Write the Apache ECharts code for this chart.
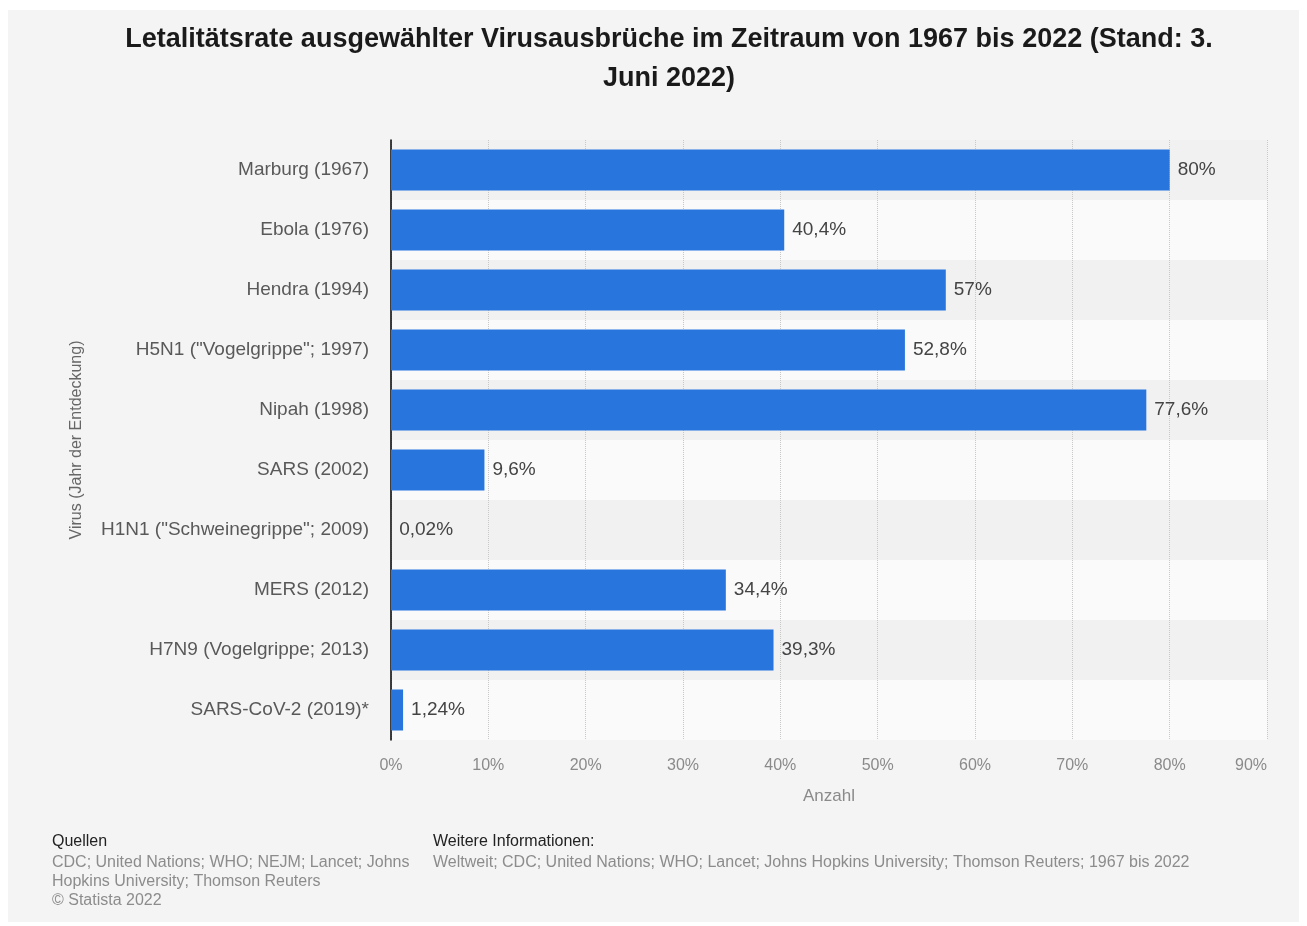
<!DOCTYPE html>
<html>
<head>
<meta charset="utf-8">
<script src="https://cdn.jsdelivr.net/npm/echarts@6/dist/echarts.min.js"></script>
<style>
  html, body { margin: 0; padding: 0; background: #ffffff; }
  #bg { position: absolute; left: 8px; top: 10px; width: 1291px; height: 912px; background: #f4f4f4; }
  #chart { position: absolute; left: 0; top: 0; width: 1307px; height: 926px; }
</style>
</head>
<body>
<div id="bg"></div>
<div id="chart"></div>
<script>
const categories = [
  'Marburg (1967)',
  'Ebola (1976)',
  'Hendra (1994)',
  'H5N1 ("Vogelgrippe"; 1997)',
  'Nipah (1998)',
  'SARS (2002)',
  'H1N1 ("Schweinegrippe"; 2009)',
  'MERS (2012)',
  'H7N9 (Vogelgrippe; 2013)',
  'SARS-CoV-2 (2019)*'
];
const values = [80, 40.4, 57, 52.8, 77.6, 9.6, 0.02, 34.4, 39.3, 1.24];
const axisMax = 90;
const axisInterval = 10;

const titleText = 'Letalitätsrate ausgewählter Virusausbrüche im Zeitraum von 1967 bis 2022 (Stand: 3.\nJuni 2022)';
const sourcesHead = 'Quellen';
const sourcesText = 'CDC; United Nations; WHO; NEJM; Lancet; Johns\nHopkins University; Thomson Reuters\n© Statista 2022';
const infoHead = 'Weitere Informationen:';
const infoText = 'Weltweit; CDC; United Nations; WHO; Lancet; Johns Hopkins University; Thomson Reuters; 1967 bis 2022';

const FONT = '"Liberation Sans", Arial, Helvetica, sans-serif';
const fmt = v => String(v).replace('.', ',') + '%';

const chart = echarts.init(document.getElementById('chart'), null, { renderer: 'canvas' });
chart.setOption({
  backgroundColor: 'transparent',
  animation: false,
  textStyle: { fontFamily: FONT },
  title: {
    text: titleText,
    left: 664,
    textAlign: 'center',
    top: 15,
    textStyle: { fontFamily: FONT, fontSize: 27, fontWeight: 'bold', color: '#1a1a1a', lineHeight: 39 }
  },
  grid: { left: 391, right: 40, top: 140, height: 600, containLabel: false },
  xAxis: {
    type: 'value',
    min: 0,
    max: axisMax,
    interval: axisInterval,
    name: 'Anzahl',
    nameLocation: 'middle',
    nameGap: 48,
    nameTextStyle: { fontFamily: FONT, fontSize: 17, color: '#8a8a8a' },
    axisLine: { show: false },
    axisTick: { show: false },
    axisLabel: {
      formatter: v => v + '%',
      margin: 18,
      fontFamily: FONT,
      fontSize: 16,
      color: '#8a8a8a',
      alignMaxLabel: 'right'
    },
    splitLine: { show: true, lineStyle: { type: 'dotted', color: '#c8c8c8', width: 1 } }
  },
  yAxis: {
    type: 'category',
    data: categories,
    inverse: true,
    name: 'Virus (Jahr der Entdeckung)',
    nameLocation: 'middle',
    nameGap: 306,
    nameRotate: 90,
    nameTextStyle: { fontFamily: FONT, fontSize: 16, color: '#666666' },
    axisLine: { show: true, lineStyle: { color: '#000000', width: 1.5 } },
    axisTick: { show: false },
    axisLabel: { margin: 22, fontFamily: FONT, fontSize: 19, color: '#595959', padding: [3, 0, 0, 0] },
    splitArea: { show: true, areaStyle: { color: ['#f1f1f1', '#fafafa'] } },
    splitLine: { show: false }
  },
  series: [{
    type: 'bar',
    data: values,
    barWidth: 41,
    itemStyle: { color: '#2876dd' },
    label: {
      show: true,
      position: 'right',
      distance: 8,
      padding: [3, 0, 0, 0],
      formatter: p => fmt(p.value),
      fontFamily: FONT,
      fontSize: 19,
      color: '#444444'
    }
  }],
  graphic: [
    { type: 'text', left: 52, top: 834, style: { text: sourcesHead, font: '16px ' + FONT, fill: '#222222' } },
    { type: 'text', left: 52, top: 853, style: { text: sourcesText, font: '16px ' + FONT, fill: '#8c8c8c', lineHeight: 19 } },
    { type: 'text', left: 433, top: 834, style: { text: infoHead, font: '16px ' + FONT, fill: '#222222' } },
    { type: 'text', left: 433, top: 853, style: { text: infoText, font: '16px ' + FONT, fill: '#8c8c8c', lineHeight: 19 } }
  ]
});
</script>
</body>
</html>
